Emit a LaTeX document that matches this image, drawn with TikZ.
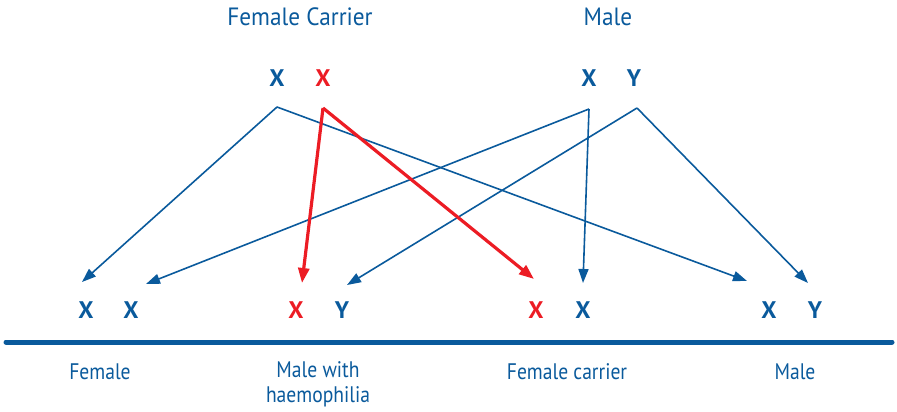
\documentclass[tikz,border=0pt]{standalone}
\usepackage{fontspec}
\setmainfont{PT Sans}
\newfontfamily\titlefont[FakeStretch=0.93]{PT Sans}
\newfontfamily\labfont[FakeStretch=0.87]{PT Sans}
\usetikzlibrary{arrows.meta}
\definecolor{cblue}{RGB}{10,90,156}
\definecolor{cred}{RGB}{236,28,36}
\begin{document}
\begin{tikzpicture}[x=1pt,y=-1pt,
  title/.style={text=cblue,font=\titlefont\fontsize{25}{28}\selectfont},
  lab/.style={text=cblue,font=\labfont\fontsize{22.5}{25}\selectfont,align=center},
  chrom/.style={font=\bfseries\fontsize{24}{26}\selectfont,text=cblue},
  redchrom/.style={chrom,text=cred},
  bl/.style={draw=cblue,line width=1.6pt,-{Triangle[length=14pt,width=10pt]}},
  rl/.style={draw=cred,line width=3.2pt,-{Triangle[length=15pt,width=11pt]}}]
\useasboundingbox (0,0) rectangle (897,412);
% titles
\node[title] (fc) at (300,17) {Female Carrier};
\node[title] (m) at (608,17) {Male};
% parents
\node[chrom] (p1) at (277,78) {X};
\node[redchrom] (p2) at (323,78) {X};
\node[chrom] (p3) at (589,78) {X};
\node[chrom] (p4) at (634,78) {Y};
\coordinate (a1) at (277,107);
\coordinate (a2) at (323,108);
\coordinate (a3) at (589,109);
\coordinate (a4) at (637,108);
% children
\node[chrom] (c1) at (86,310) {X};
\node[chrom] (c2) at (131,310) {X};
\node[redchrom] (c3) at (296,310) {X};
\node[chrom] (c4) at (342,310) {Y};
\node[redchrom] (c5) at (536,310) {X};
\node[chrom] (c6) at (583,310) {X};
\node[chrom] (c7) at (769,310) {X};
\node[chrom] (c8) at (815,310) {Y};
\coordinate (t1) at (82,282);
\coordinate (t2) at (146,284);
\coordinate (t3) at (302,283);
\coordinate (t4) at (347,285);
\coordinate (t5) at (534,279);
\coordinate (t6) at (583,283);
\coordinate (t7) at (747,281);
\coordinate (t8) at (808,283);
% connectors
\draw[bl] (a1) -- (t1);
\draw[bl] (a1) -- (t7);
\draw[bl] (a3) -- (t2);
\draw[bl] (a3) -- (t6);
\draw[bl] (a4) -- (t4);
\draw[bl] (a4) -- (t8);
\draw[rl] (a2) -- (t3);
\draw[rl] (a2) -- (t5);
% baseline
\coordinate (l1) at (6,342);
\coordinate (l2) at (892,342);
\draw[cblue,line width=5pt,line cap=round] (l1) -- (l2);
% labels
\node[lab] (f) at (100,372) {Female};
\node[lab,anchor=north] (mh) at (318,358) {Male with\\haemophilia};
\node[lab] (fcar) at (567,372) {Female carrier};
\node[lab] (ml) at (795,372) {Male};
\end{tikzpicture}
\end{document}
